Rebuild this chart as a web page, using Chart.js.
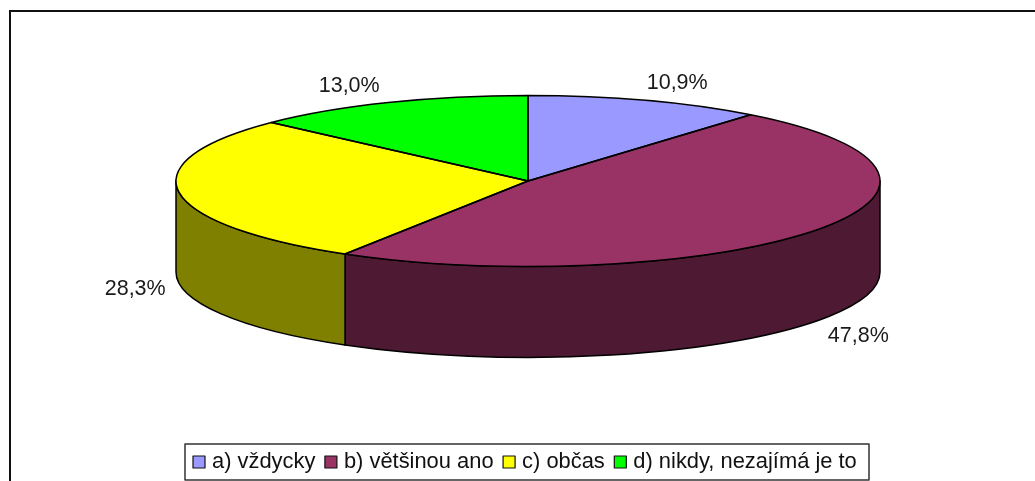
<!DOCTYPE html>
<html><head><meta charset="utf-8">
<style>html,body{margin:0;padding:0;background:#fff}canvas{display:block}</style>
<script src="https://cdn.jsdelivr.net/npm/chart.js@4"></script>
</head><body><canvas id="c" width="1035" height="481"></canvas>
<script>
const categories = ['a) vždycky','b) většinou ano','c) občas','d) nikdy, nezajímá je to'];
const values = [10.9,47.8,28.3,13.0];
const valueLabels = ['10,9%','47,8%','28,3%','13,0%'];
const topColors = ['#9999FF','#993366','#FFFF00','#00FF00'];
const sideColors = ['#4D4D80','#4D1933','#808000','#008000'];
const P = {cx:528,cy:181,rx:352,ry:85.5,depth:91};
const labelOffsets = [[31,-17],[43,15],[-44,6],[-39,-16]];
const labelOnBase = [false,true,true,false];
const LEG = {x:185,y:444,w:684,h:36,font:'21.9px "Liberation Sans"',box:12,gapBox:7,gapItem:9.5,inset:8};
const INK = '#000';

const pseudo3d = {
  id:'pseudo3d',
  beforeDraw(chart){
    const c = chart.ctx;
    c.save();
    c.fillStyle='#fff'; c.fillRect(0,0,1035,481);
    c.strokeStyle='#111'; c.lineWidth=2;
    c.beginPath(); c.moveTo(10,490); c.lineTo(10,11); c.lineTo(1040,11); c.stroke();
    c.restore();
  },
  beforeDatasetsDraw(chart){
    const c = chart.ctx, arcs = chart.getDatasetMeta(0).data;
    c.save();
    c.lineWidth=1.5; c.strokeStyle=INK; c.lineJoin='round';
    arcs.forEach((a,i)=>{
      for(const off of [0,2*Math.PI]){
        const s=Math.max(a.startAngle-off,0), e=Math.min(a.endAngle-off,Math.PI);
        if(e<=s) continue;
        c.beginPath();
        c.ellipse(P.cx,P.cy,P.rx,P.ry,0,s,e);
        c.ellipse(P.cx,P.cy+P.depth,P.rx,P.ry,0,e,s,true);
        c.closePath();
        c.fillStyle=sideColors[i]; c.fill(); c.stroke();
      }
    });
    c.restore();
    const r = arcs[0].outerRadius, sx=P.rx/r, sy=P.ry/r;
    c.save();
    c.transform(sx,0,0,sy,P.cx-arcs[0].x*sx,P.cy-arcs[0].y*sy);
  },
  afterDatasetsDraw(chart){
    const c = chart.ctx, arcs = chart.getDatasetMeta(0).data;
    c.restore();
    c.save();
    c.lineWidth=1.5; c.strokeStyle=INK; c.lineJoin='round';
    arcs.forEach(a=>{
      c.beginPath();
      c.moveTo(P.cx,P.cy);
      c.ellipse(P.cx,P.cy,P.rx,P.ry,0,a.startAngle,a.endAngle);
      c.closePath(); c.stroke();
    });
    // value labels
    c.fillStyle='#1a1a1a'; c.font='21.5px "Liberation Sans"'; c.textAlign='center'; c.textBaseline='middle';
    arcs.forEach((a,i)=>{
      const m=(a.startAngle+a.endAngle)/2;
      const x=P.cx+P.rx*Math.cos(m)+labelOffsets[i][0];
      const y=P.cy+P.ry*Math.sin(m)+(labelOnBase[i]?P.depth:0)+labelOffsets[i][1];
      c.fillText(valueLabels[i],x,y);
    });
    // legend
    c.strokeStyle='#333'; c.lineWidth=1.5; c.fillStyle='#fff';
    c.fillRect(LEG.x,LEG.y,LEG.w,LEG.h); c.strokeRect(LEG.x,LEG.y,LEG.w,LEG.h);
    c.font=LEG.font; c.textAlign='left'; c.textBaseline='middle';
    let x=LEG.x+LEG.inset; const my=LEG.y+LEG.h/2;
    categories.forEach((t,i)=>{
      c.fillStyle=topColors[i]; c.strokeStyle='#111'; c.lineWidth=1.2;
      c.fillRect(x,my-LEG.box/2,LEG.box,LEG.box); c.strokeRect(x,my-LEG.box/2,LEG.box,LEG.box);
      x+=LEG.box+LEG.gapBox;
      c.fillStyle='#111'; c.fillText(t,x,my);
      x+=c.measureText(t).width+LEG.gapItem;
    });
    c.restore();
  }
};
new Chart(document.getElementById('c'),{
  type:'pie',
  data:{labels:categories,datasets:[{data:values,backgroundColor:topColors,borderWidth:0,clip:false}]},
  options:{responsive:false,animation:false,events:[],
    plugins:{legend:{display:false},tooltip:{enabled:false},title:{display:false}}},
  plugins:[pseudo3d]
});
</script></body></html>
